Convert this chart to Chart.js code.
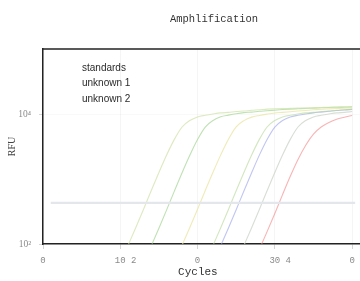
<!DOCTYPE html>
<html>
<head>
<meta charset="utf-8">
<script src="https://cdn.jsdelivr.net/npm/chart.js@4.4.1/dist/chart.umd.min.js"></script>
<style>
    html, body { margin: 0; padding: 0; background: #fff; overflow: hidden; }
    #wrap { position: relative; width: 360px; height: 281px; overflow: hidden; }
    #chart { position: absolute; left: 0; top: 0; }
    #title {
        position: absolute; top: 12px; left: 0; width: 360px;
        padding-left: 68px; box-sizing: border-box; text-align: center;
        font: 10.5px/14px "Liberation Mono", monospace; color: #333;
    }
</style>
</head>
<body>
<div id="wrap">
    <canvas id="chart" width="366" height="281"></canvas>
    <div id="title">Amphlification</div>
</div>
<script>
const cycles = [
    0, 1, 2, 3, 4, 5, 6, 7, 8, 9,
    10, 11, 12, 13, 14, 15, 16, 17, 18, 19,
    20, 21, 22, 23, 24, 25, 26, 27, 28, 29,
    30, 31, 32, 33, 34, 35, 36, 37, 38, 39, 40,
];

const xTickValues = [0, 10, 20, 30, 40];
const xTickLabels = ['0', '  10 2', '0', '  30 4', '0'];
const yTickValues = [100, 10000];
const yTickLabels = ['10²', '10⁴'];
const legendLabels = ['standards', 'unknown 1', 'unknown 2'];
const threshold = 430;

const curve1 = [
    null, null, null, null, null, null, null, null, null, null,
    51, 95, 178, 339, 661, 1260, 2340, 4070, 6310, 7940,
    9020, 9550, 10000, 10400, 10600, 10900, 11100, 11400, 11600, 11900,
    12000, 12100, 12200, 12300, 12400, 12500, 12600, 12700, 12750, 12800, 12850,
];
const curve2 = [
    null, null, null, null, null, null, null, null, null, null,
    null, null, null, 50, 93, 175, 335, 650, 1250, 2320,
    4050, 6300, 7950, 9050, 9600, 10100, 10500, 10700, 11000, 11200,
    11450, 11700, 11900, 12050, 12200, 12300, 12450, 12600, 12700, 12800, 12900,
];
const curve3 = [
    null, null, null, null, null, null, null, null, null, null,
    null, null, null, null, null, null, null, 52, 96, 180,
    342, 665, 1270, 2350, 4100, 6350, 7900, 8950, 9500, 9950,
    10350, 10600, 10850, 11100, 11350, 11600, 11850, 12000, 12150, 12300, 12400,
];
const curve4 = [
    null, null, null, null, null, null, null, null, null, null,
    null, null, null, null, null, null, null, null, null, null,
    null, 51, 95, 178, 339, 661, 1260, 2340, 4070, 6310,
    7940, 9020, 9550, 10000, 10400, 10600, 10900, 11100, 11400, 11600, 11900,
];
const curve5 = [
    null, null, null, null, null, null, null, null, null, null,
    null, null, null, null, null, null, null, null, null, null,
    null, null, 50, 94, 176, 336, 655, 1250, 2330, 4060,
    6300, 7950, 9000, 9550, 10000, 10400, 10700, 11000, 11300, 11500, 11800,
];
const curve6 = [
    null, null, null, null, null, null, null, null, null, null,
    null, null, null, null, null, null, null, null, null, null,
    null, null, null, null, null, 51, 95, 178, 339, 661,
    1260, 2340, 4070, 6310, 7940, 9020, 9550, 10000, 10400, 10600, 10900,
];
const curve7 = [
    null, null, null, null, null, null, null, null, null, null,
    null, null, null, null, null, null, null, null, null, null,
    null, null, null, null, null, null, null, 46, 83, 155,
    295, 575, 1100, 2000, 3310, 4900, 6300, 7400, 8300, 8900, 9500,
];

const curves = [curve1, curve2, curve3, curve4, curve5, curve6, curve7];
const curveColors = [
    'rgba(205, 225, 165, 0.7)',
    'rgba(150, 205, 130, 0.6)',
    'rgba(235, 230, 165, 0.8)',
    'rgba(180, 215, 150, 0.6)',
    'rgba(150, 160, 232, 0.6)',
    'rgba(205, 214, 200, 0.8)',
    'rgba(245, 140, 140, 0.65)',
];

function toPoints(values) {
    return values
        .map((v, i) => (v === null ? null : { x: cycles[i], y: v }))
        .filter((p) => p !== null);
}

const datasets = [
    {
        label: 'threshold',
        data: [{ x: 1, y: threshold }, { x: 40.4, y: threshold }],
        borderColor: '#e3e7ec',
        borderWidth: 2.2,
        pointRadius: 0,
    },
];

curves.forEach((values, i) => {
    datasets.push({
        label: `curve ${i + 1}`,
        data: toPoints(values),
        borderColor: curveColors[i],
        borderWidth: 1.1,
        pointRadius: 0,
        cubicInterpolationMode: 'monotone',
    });
});

// legend text sits inside the plot, no swatches; also the top frame line
const frameAndLegend = {
    id: 'frameAndLegend',
    afterDraw(chart) {
        const { ctx, chartArea } = chart;
        ctx.save();
        ctx.strokeStyle = '#222';
        ctx.lineWidth = 1.5;
        ctx.beginPath();
        ctx.moveTo(chartArea.left, chartArea.top);
        ctx.lineTo(chartArea.right, chartArea.top);
        ctx.stroke();

        ctx.font = '10px "Liberation Sans", sans-serif';
        ctx.fillStyle = '#2a2a2a';
        ctx.textBaseline = 'middle';
        legendLabels.forEach((text, i) => {
            ctx.fillText(text, chartArea.left + 39, chartArea.top + 19 + i * 15.5);
        });
        ctx.restore();
    },
};

new Chart(document.getElementById('chart'), {
    type: 'line',
    data: { datasets },
    plugins: [frameAndLegend],
    options: {
        responsive: false,
        animation: false,
        layout: { padding: { top: 49, right: 0, bottom: 0, left: 0 } },
        plugins: {
            legend: { display: false },
            title: { display: false },
            tooltip: { enabled: false },
        },
        scales: {
            x: {
                type: 'linear',
                min: 0,
                max: 41.8,
                afterBuildTicks(scale) {
                    scale.ticks = xTickValues.map((value) => ({ value }));
                },
                afterFit(scale) {
                    scale.height = 37;
                },
                ticks: {
                    autoSkip: false,
                    maxRotation: 0,
                    padding: 6,
                    color: '#8a8a8a',
                    font: { family: '"Liberation Mono", monospace', size: 9 },
                    callback: (value, index) => xTickLabels[index],
                },
                grid: {
                    color: '#f5f5f5',
                    tickColor: '#d6d6d6',
                    tickLength: 5,
                },
                border: { color: '#222', width: 1.5 },
                title: {
                    display: true,
                    text: 'Cycles  ',
                    color: '#333',
                    font: { family: '"Liberation Mono", monospace', size: 11 },
                    padding: { top: 0, bottom: 2 },
                },
            },
            y: {
                type: 'logarithmic',
                min: 100,
                max: 100000,
                afterBuildTicks(scale) {
                    scale.ticks = yTickValues.map((value) => ({ value }));
                },
                afterFit(scale) {
                    scale.width = 43;
                },
                ticks: {
                    padding: 8,
                    color: '#8a8a8a',
                    font: { family: '"Liberation Serif", serif', size: 9.5 },
                    callback: (value, index) => yTickLabels[index],
                },
                grid: {
                    color: 'rgba(0, 0, 0, 0.025)',
                    tickColor: '#d6d6d6',
                    tickLength: 4,
                },
                border: { color: '#222', width: 1.5 },
                title: {
                    display: true,
                    text: 'RFU',
                    color: '#444',
                    font: { family: '"Liberation Serif", serif', size: 10 },
                    padding: { top: 6, bottom: 0 },
                },
            },
        },
    },
});
</script>
</body>
</html>
